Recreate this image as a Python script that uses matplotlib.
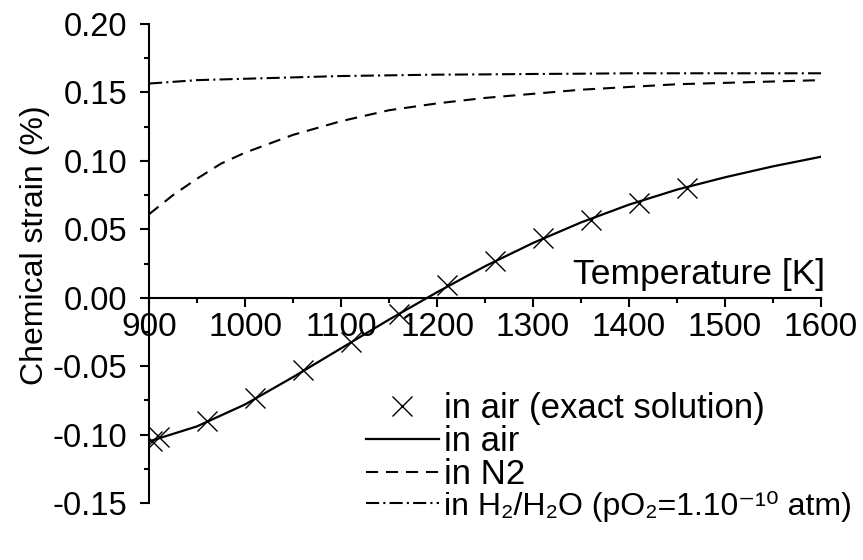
import matplotlib.pyplot as plt
import matplotlib.ticker as ticker
import numpy as np

plt.rcParams['font.family'] = ['Liberation Sans', 'DejaVu Sans']
plt.rcParams['axes.unicode_minus'] = False

# exact solution points (in air)
T_exact = [903, 910, 960, 1010, 1060, 1110, 1160, 1210, 1260, 1310, 1360, 1410, 1460]
s_exact = [-0.105, -0.102, -0.090, -0.073, -0.053, -0.032, -0.012, 0.009, 0.027, 0.044, 0.057, 0.069, 0.080]

# model curves
T = [900, 950, 1000, 1050, 1100, 1150, 1200, 1250, 1300, 1350, 1400, 1450, 1500, 1550, 1600]
s_air = [-0.105, -0.094, -0.078, -0.058, -0.037, -0.016, 0.004, 0.023, 0.040, 0.055, 0.068, 0.079, 0.088, 0.096, 0.103]
s_h2 = [0.1565, 0.159, 0.160, 0.161, 0.162, 0.1625, 0.163, 0.1632, 0.1635, 0.1637, 0.164, 0.164, 0.164, 0.164, 0.164]

T_n2 = [900, 925, 950, 975, 1000, 1050, 1100, 1150, 1200, 1250, 1300, 1350, 1400, 1450, 1500, 1550, 1600]
s_n2 = [0.061, 0.075, 0.087, 0.098, 0.106, 0.119, 0.129, 0.137, 0.142, 0.146, 0.149, 0.152, 0.154, 0.156, 0.157, 0.158, 0.159]

yticks = [-0.15, -0.10, -0.05, 0.00, 0.05, 0.10, 0.15, 0.20]
xticks = [900, 1000, 1100, 1200, 1300, 1400, 1500, 1600]

fig = plt.figure(figsize=(8.63, 5.6), dpi=100)
ax = fig.add_axes([0.1727, 0.1018, 0.7786, 0.8553])

ax.plot(T_exact, s_exact, 'x', color='black', markersize=14, markeredgewidth=1.0,
        label='in air (exact solution)')
ax.plot(T, s_air, '-', color='black', lw=1.6, label='in air')
ax.plot(T_n2, s_n2, color='black', lw=1.5, dashes=(5.8, 3.8), label='in N2')
ax.plot(T, s_h2, color='black', lw=1.5, dashes=(6.3, 2, 1, 2),
        label='in H\u2082/H\u2082O (pO\u2082=1.10\u207b\u00b9\u2070 atm)')

ax.set_xlim(900, 1600)
ax.set_ylim(-0.15, 0.20)

ax.spines['top'].set_visible(False)
ax.spines['right'].set_visible(False)
ax.spines['bottom'].set_position(('data', 0))
ax.spines['left'].set_linewidth(1.5)
ax.spines['bottom'].set_linewidth(1.5)

ax.yaxis.set_major_locator(ticker.FixedLocator(yticks))
ax.yaxis.set_minor_locator(ticker.MultipleLocator(0.025))
ax.yaxis.set_major_formatter(ticker.FuncFormatter(lambda v, p: '%.2f' % (0.0 if abs(v) < 1e-9 else v)))
ax.xaxis.set_major_locator(ticker.FixedLocator(xticks))
ax.xaxis.set_minor_locator(ticker.MultipleLocator(50))

ax.tick_params(which='major', direction='out', length=6.5, width=1.5)
ax.tick_params(which='minor', direction='out', length=3.5, width=1.5)
ax.tick_params(axis='y', which='major', labelsize=23.5, pad=9)
ax.tick_params(axis='x', which='major', labelsize=24, pad=3.5)

ax.set_ylabel('Chemical strain (%)', fontsize=23)
ax.yaxis.set_label_coords(-0.148, 0.539)
ax.text(1604, 0.010, 'Temperature [K]', fontsize=25.5, ha='right', va='baseline')

leg = ax.legend(loc='upper left', bbox_to_anchor=(0.424, 0.30), bbox_transform=fig.transFigure,
                frameon=False, fontsize=25, handlelength=2.1, handletextpad=0.15,
                labelspacing=0.0, borderpad=0, borderaxespad=0)
leg.get_texts()[3].set_fontsize(23)

fig.savefig('out.png', dpi=100)
